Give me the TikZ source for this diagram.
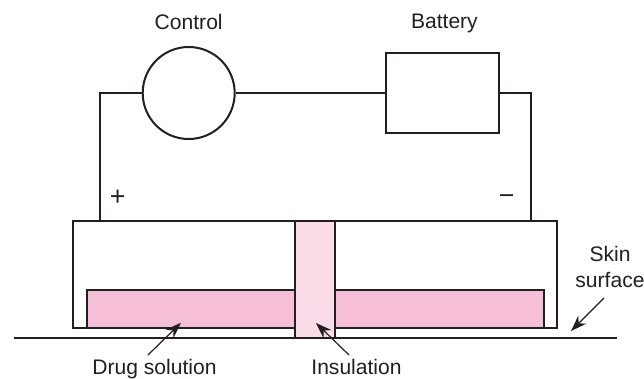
\documentclass[tikz,border=0pt]{standalone}
\usepackage{fontspec}
\setmainfont{Liberation Sans}
\usetikzlibrary{arrows.meta, positioning}
\definecolor{drugcolor}{RGB}{246,191,216}
\definecolor{insulcolor}{RGB}{251,220,233}
\definecolor{linecolor}{RGB}{35,31,32}
\tikzset{
    wire/.style={draw=linecolor, line width=1.5pt},
    part/.style={rectangle, draw=linecolor, line width=1.5pt, inner sep=0pt},
    label/.style={font=\fontsize{15.8}{20}\selectfont, text=linecolor, align=center, inner sep=0pt},
    sign/.style={font=\fontsize{20}{20}\selectfont, text=linecolor, inner sep=0pt},
    pointer/.style={-{Stealth[length=12pt, width=8.5pt]}, draw=linecolor, line width=0.9pt}
}

\begin{document}
\begin{tikzpicture}[x=0.75pt, y=-0.75pt]
    \useasboundingbox (0,0) rectangle (644,379);

    \node[circle, draw=linecolor, line width=1.5pt, minimum size=69pt, inner sep=0pt] (control) at (188.7,93) {};
    \node[part, minimum width=84.5pt, minimum height=60pt] (battery) at (442.4,93) {};
    \node[label, text depth=0pt, above=12pt of control] (controllabel) {Control};
    \node[label, text depth=0pt, above=17.25pt of battery, xshift=1.5pt] (batterylabel) {Battery};

    \node[part, minimum width=363pt, minimum height=80pt] (housing) at (315,274.5) {};
    \node[part, fill=drugcolor, minimum width=342.5pt, minimum height=28.5pt] (drug) at (315.3,309) {};
    \node[part, fill=insulcolor, minimum width=30pt, minimum height=88pt] (insulation) at (315,279.5) {};

    \coordinate (plusend) at (100.3,221);
    \coordinate (minusend) at (530.7,221);
    \coordinate (skinleft) at (14,338);
    \coordinate (skinright) at (617,338);

    \draw[wire] (control) -- (battery);
    \draw[wire] (control.west) -| (plusend);
    \draw[wire] (battery.east) -| (minusend);
    \draw[wire] (skinleft) -- (skinright);

    \node[sign] (plus) at (117.7,198) {+};
    \node[sign] (minus) at (506.7,200) {\char"2212};
    \node[label] (skin) at (610,267) {Skin\\surface};
    \node[label, anchor=base] (druglabel) at (154.5,374.5) {Drug solution};
    \node[label, anchor=base] (insullabel) at (356.5,374.5) {Insulation};

    \coordinate (drugtip) at (181,322.7);
    \coordinate (insultip) at (316,323);
    \coordinate (skintip) at (571,331);

    \draw[pointer] (148,355) coordinate (drugtail) -- (drugtip);
    \draw[pointer] (349,355) coordinate (insultail) -- (insultip);
    \draw[pointer] (604,298) coordinate (skintail) -- (skintip);
\end{tikzpicture}
\end{document}
